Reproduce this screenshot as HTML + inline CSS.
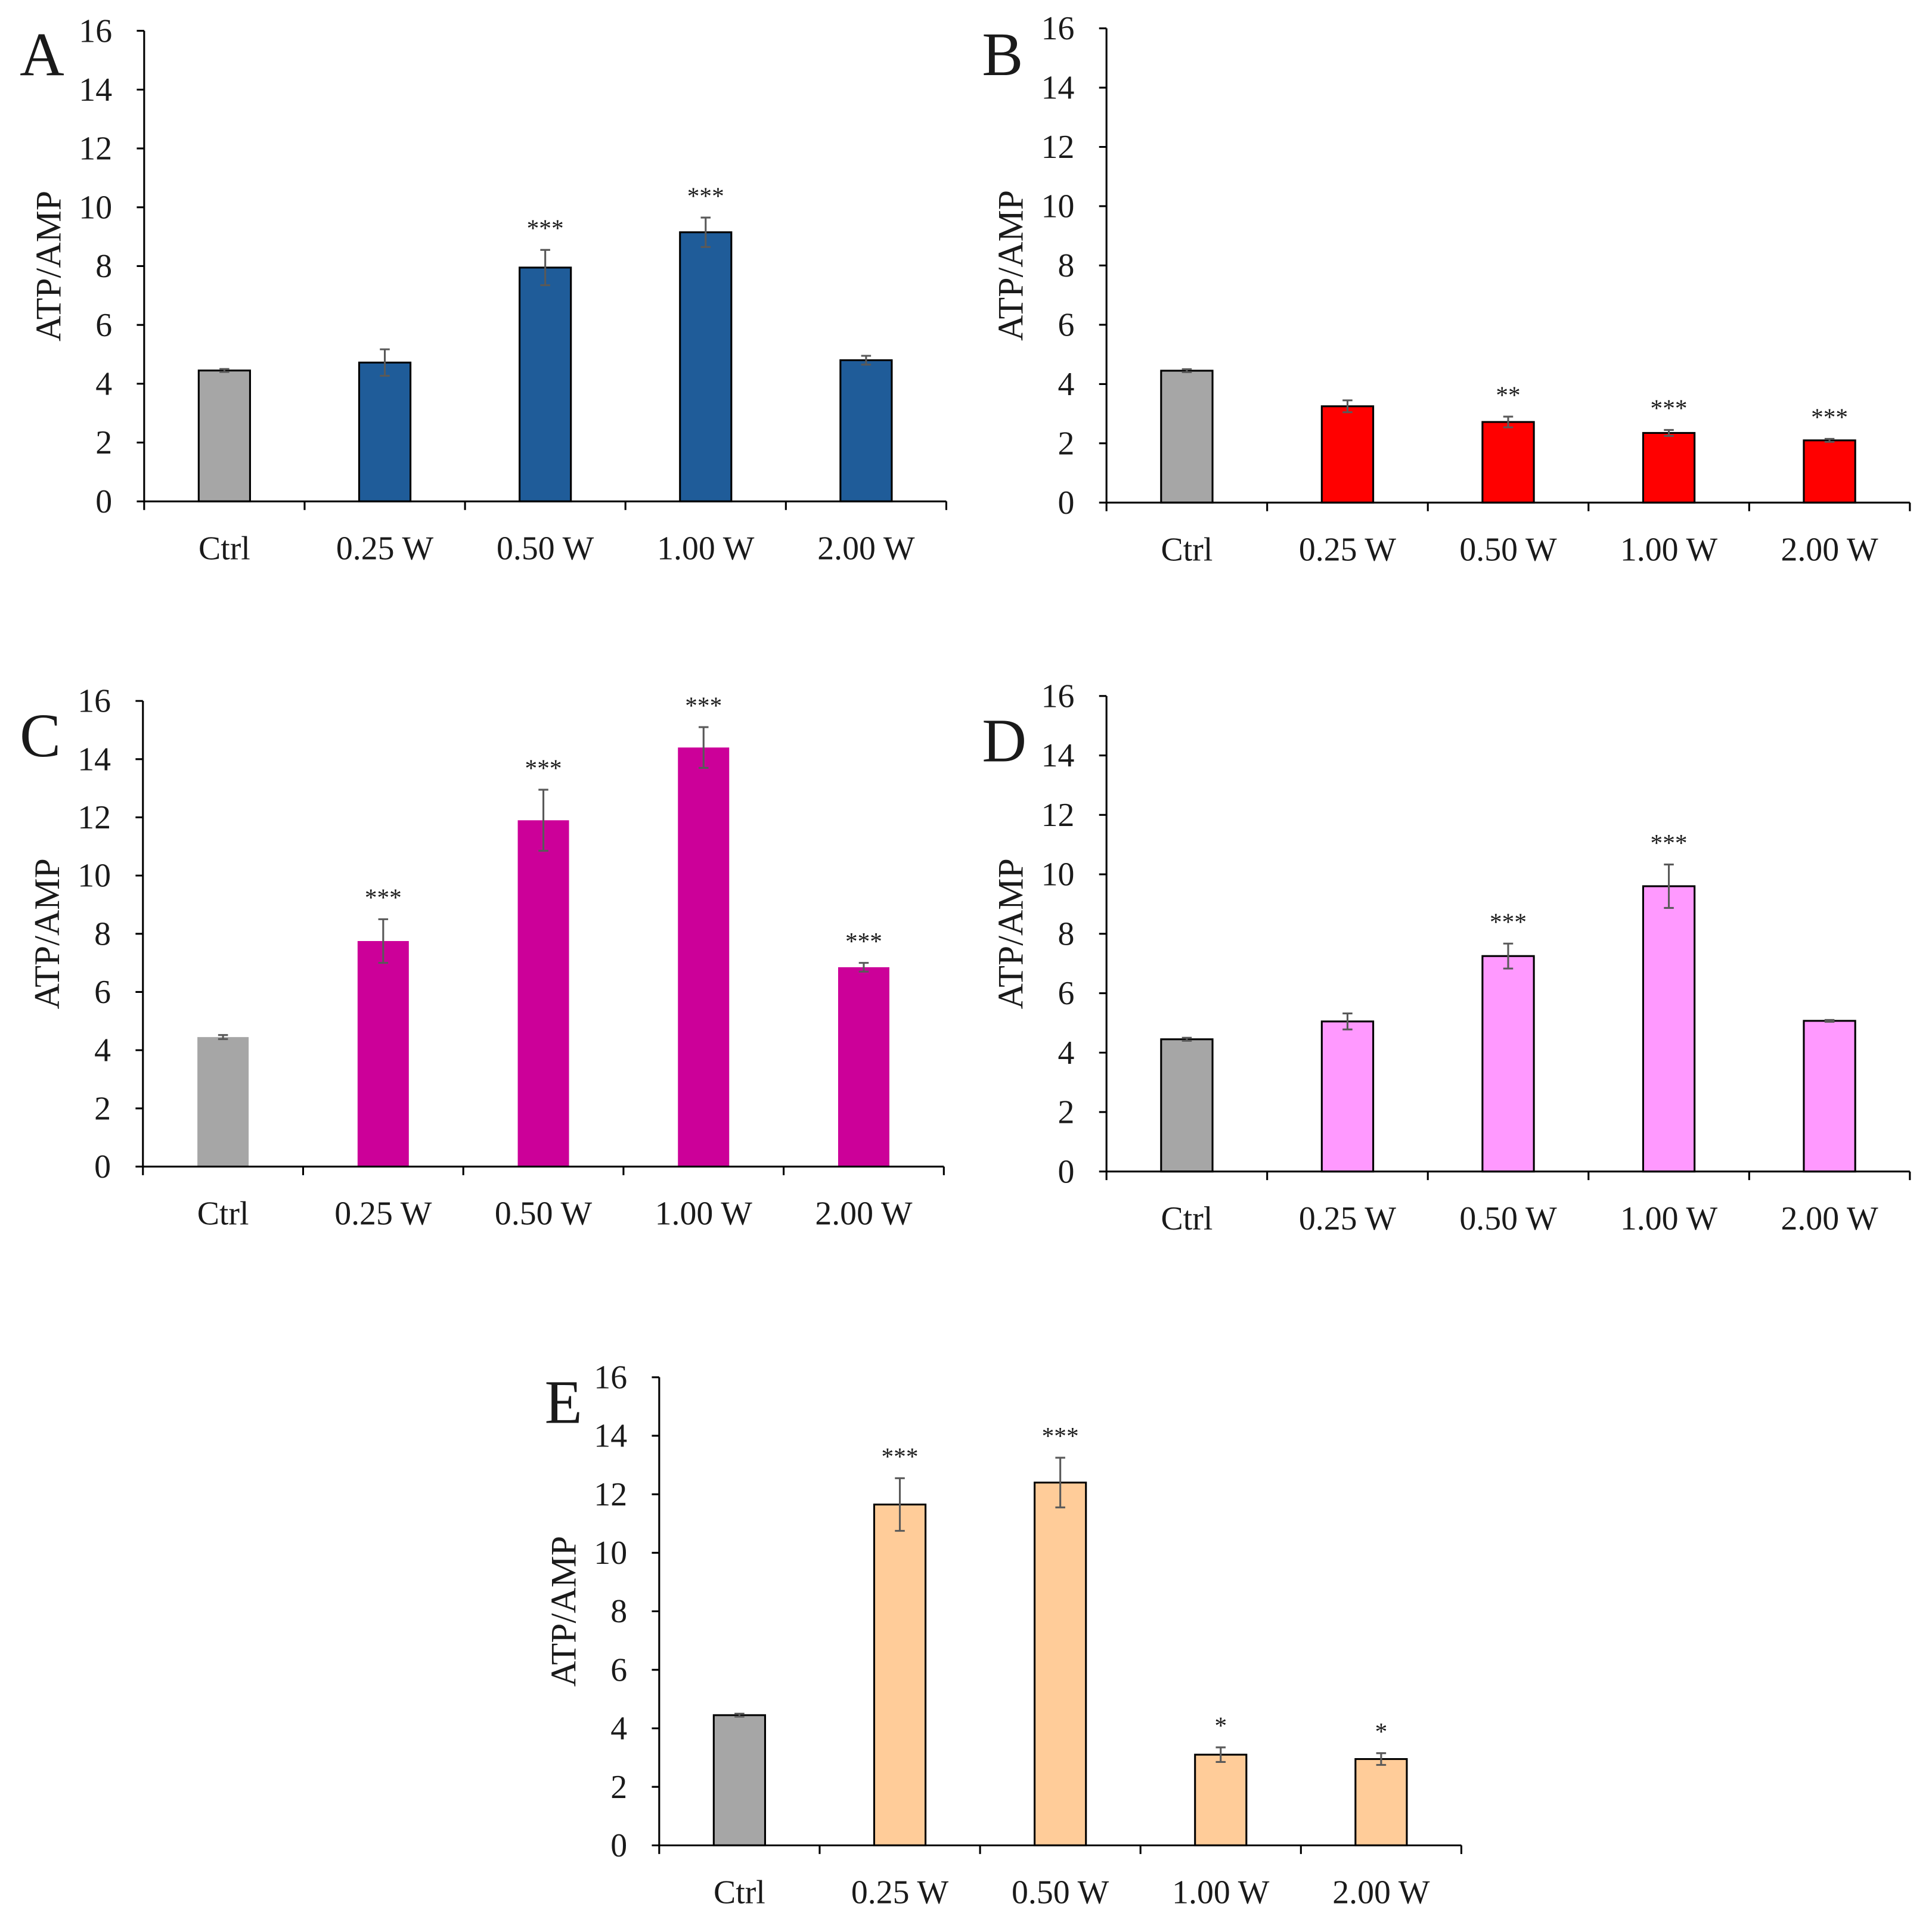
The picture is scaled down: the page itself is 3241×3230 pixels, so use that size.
<!DOCTYPE html>
<html><head><meta charset="utf-8"><style>
html,body{margin:0;padding:0;background:#fff;}
svg{display:block;}
text{font-family:"Liberation Serif",serif;fill:#1a1a1a;}
</style></head>
<body>
<svg id="fig" width="3241" height="3230" viewBox="0 0 3241 3230" xmlns="http://www.w3.org/2000/svg">
<g id="root" transform="scale(2.067)"></g>
</svg>
<script>
const categories = ["Ctrl","0.25 W","0.50 W","1.00 W","2.00 W"];
const yTicks = [0,2,4,6,8,10,12,14,16];
const valuesA = [4.45,4.72,7.95,9.15,4.8];
const errorsA = [0.05,0.45,0.6,0.5,0.15];
const starsA = ["","","***","***",""];
const valuesB = [4.45,3.25,2.72,2.35,2.1];
const errorsB = [0.05,0.2,0.18,0.1,0.05];
const starsB = ["","","**","***","***"];
const valuesC = [4.45,7.75,11.9,14.4,6.85];
const errorsC = [0.07,0.75,1.05,0.7,0.15];
const starsC = ["","***","***","***","***"];
const valuesD = [4.45,5.05,7.25,9.6,5.07];
const errorsD = [0.05,0.27,0.42,0.73,0.03];
const starsD = ["","","***","***",""];
const valuesE = [4.45,11.65,12.4,3.1,2.95];
const errorsE = [0.05,0.9,0.85,0.25,0.2];
const starsE = ["","***","***","*","*"];

const NS="http://www.w3.org/2000/svg";
const root=document.getElementById('root');
function mk(tag,attrs,parent){const e=document.createElementNS(NS,tag);for(const k in attrs)e.setAttribute(k,attrs[k]);parent.appendChild(e);return e;}

const panels=[
 {id:'a',letter:'A',lx:16,ly:61,x0:117,x1:768,y0:407,y16:25,vals:valuesA,errs:errorsA,stars:starsA,color:'#1f5c99',outline:true},
 {id:'b',letter:'B',lx:797,ly:61,x0:898,x1:1550,y0:408,y16:23,vals:valuesB,errs:errorsB,stars:starsB,color:'#ff0000',outline:true},
 {id:'c',letter:'C',lx:16,ly:614,x0:116,x1:766,y0:947,y16:569,vals:valuesC,errs:errorsC,stars:starsC,color:'#cc0099',outline:false},
 {id:'d',letter:'D',lx:797,ly:618,x0:898,x1:1550,y0:951,y16:565,vals:valuesD,errs:errorsD,stars:starsD,color:'#ff99ff',outline:true},
 {id:'e',letter:'E',lx:442,ly:1155,x0:535,x1:1186,y0:1498,y16:1118,vals:valuesE,errs:errorsE,stars:starsE,color:'#ffcc99',outline:true}
];

panels.forEach(p=>{
  const g=mk('g',{},root);
  
  
  const y=v=>p.y0-(v/16)*(p.y0-p.y16);
  const cw=(p.x1-p.x0)/categories.length;
  const xc=i=>p.x0+cw*(i+0.5);
  const bw=cw*0.32;
  const lt=mk('text',{x:p.lx,y:p.ly,'font-size':50},g);lt.textContent=p.letter;
  
  
  const yl=mk('text',{x:0,y:0,'font-size':29,'text-anchor':'middle',transform:`translate(${p.x0-68},${(p.y0+p.y16)/2}) rotate(-90)`},g);
  yl.textContent='ATP/AMP';
  
  
  p.vals.forEach((v,i)=>{
    const fill=i===0?'#a6a6a6':p.color;
    const r=mk('rect',{x:xc(i)-bw/2,y:y(v),width:bw,height:p.y0-y(v),fill:fill,stroke:p.outline?'#000':'none','stroke-width':1.5},g);
    
    
    const e=p.errs[i];
    const eb=mk('path',{d:`M${xc(i)},${y(v+e)}V${y(v-e)}M${xc(i)-4},${y(v+e)}H${xc(i)+4}M${xc(i)-4},${y(v-e)}H${xc(i)+4}`,stroke:'#595959','stroke-width':1.5,fill:'none'},g);
    
    
    if(p.stars[i]){
      const s=mk('text',{x:xc(i),y:y(v+e)-11,'font-size':20,'text-anchor':'middle','font-family':'Liberation Sans, sans-serif'},g);
      s.textContent=p.stars[i];
      
      
    }
    const cl=mk('text',{x:xc(i),y:p.y0+47,'font-size':27,'text-anchor':'middle'},g);
    cl.textContent=categories[i];
    
    
  });
  let d=`M${p.x0},${p.y16}V${p.y0}H${p.x1}`;
  yTicks.forEach(t=>{d+=`M${p.x0-6},${y(t)}H${p.x0}`;});
  for(let i=0;i<=categories.length;i++){d+=`M${p.x0+cw*i},${p.y0}V${p.y0+7}`;}
  const ax=mk('path',{d:d,stroke:'#000','stroke-width':1.5,fill:'none'},g);
  
  
  yTicks.forEach(t=>{
    const tl=mk('text',{x:p.x0-26,y:y(t)+9,'font-size':27,'text-anchor':'end'},g);
    tl.textContent=t;
    
    
  });
});
</script>
</body></html>
